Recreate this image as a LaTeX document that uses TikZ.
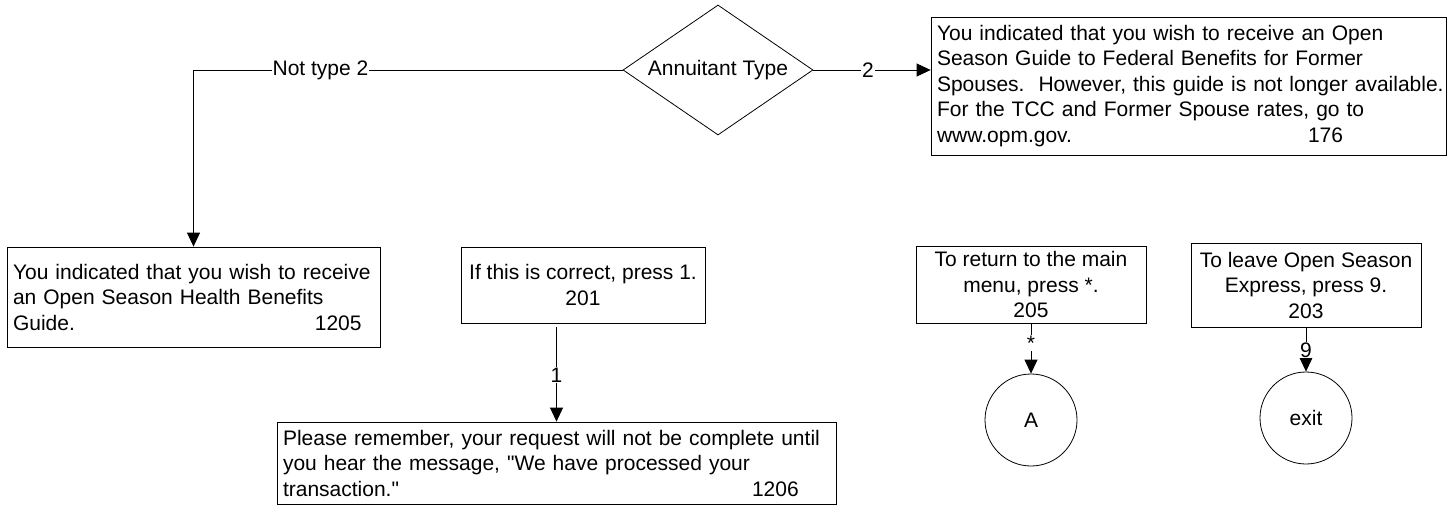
\documentclass[tikz,border=0pt]{standalone}
\usepackage{fontspec}
\setmainfont{Liberation Sans}[Ligatures=TeXOff]
\usetikzlibrary{arrows.meta,shapes.geometric}
\begin{document}
\begin{tikzpicture}[x=1pt,y=-1pt,
  font=\fontsize{21}{25.5}\selectfont,
  box/.style={draw, line width=0.8pt, rectangle, inner xsep=6pt, inner ysep=0pt,
    execute at begin node={\hyphenpenalty=10000\relax}},
  cbox/.style={draw, line width=0.8pt, rectangle, inner xsep=1pt, inner ysep=0pt, align=center},
  arr/.style={draw, line width=0.8pt, -{Triangle[length=14pt,width=13pt]}},
  lbl/.style={fill=white, inner sep=1pt},
  dec/.style={draw, line width=0.8pt, diamond, aspect=1.46, inner sep=0pt, minimum width=190pt, minimum height=130pt},
  term/.style={draw, line width=0.8pt, circle, minimum size=92pt, inner sep=0pt}
]
\useasboundingbox (0,0) rectangle (1447,505);

\node[dec] (dia) at (718,70) {Annuitant Type};

\node[box, minimum width=515pt, minimum height=138pt, text width=503pt, align=left] (tr) at (1188.5,86)
 {\mbox{You indicated that you wish to receive an Open}\\\mbox{Season Guide to Federal Benefits for Former}\\\mbox{Spouses.\ \ However, this guide is not longer available.}\\\mbox{For the TCC and Former Spouse rates, go to}\\\mbox{www.opm.gov.\hspace{236pt}176}};

\node[box, minimum width=373pt, minimum height=100pt, text width=361pt, align=left] (lbox) at (193.5,297)
 {You indicated that you wish to receive\\an Open Season Health Benefits\\Guide.\hspace{240pt}1205};

\node[cbox, minimum width=244pt, minimum height=76pt] (b201) at (583,285)
 {If this is correct, press 1.\\201};

\node[box, minimum width=559pt, minimum height=82pt, text width=547pt, align=left] (bot) at (556.5,463)
 {Please remember, your request will not be complete until\\you hear the message, "We have processed your\\transaction."\hspace{353pt}1206};

\node[cbox, minimum width=230pt, minimum height=77pt] (b205) at (1031,284.5)
 {To return to the main\\menu, press *.\\205};

\node[cbox, minimum width=230pt, minimum height=84pt] (b203) at (1306,285)
 {To leave Open Season\\Express, press 9.\\203};

\node[term] (A) at (1031,420) {A};
\node[term] (exit) at (1306,418) {exit};

\draw[arr] (dia.west) -| node[lbl, pos=0.352] {Not type 2} (lbox.north);
\draw[arr] (dia.east) -- node[lbl, pos=0.466] {2} (dia.east -| tr.west);
\draw[arr, shorten <=4pt] (b201.south -| bot.north) -- node[lbl, pos=0.525] {1} (bot.north);
\draw[arr] (b205.south) -- node[lbl, pos=0.39] {*} (A.north);
\draw[arr] (b203.south) -- node[lbl, pos=0.51] {9} (exit.north);
\end{tikzpicture}
\end{document}
